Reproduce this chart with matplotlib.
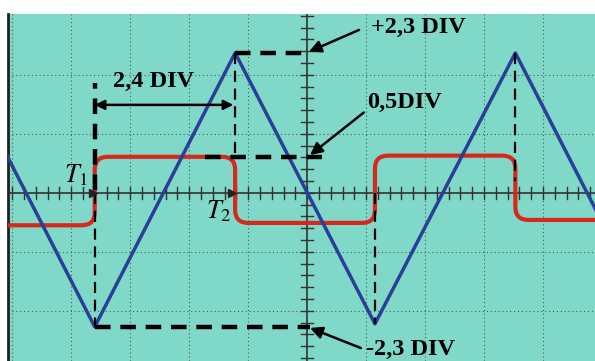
import numpy as np
import matplotlib
matplotlib.use("Agg")
import matplotlib.pyplot as plt
from matplotlib.path import Path
from matplotlib.patches import PathPatch

# triangle wave (blue), vertices in DIV
tri_t = [-5.97, -3.6, -1.22, 1.15, 3.53, 5.9]
tri_v = [2.35, -2.27, 2.37, -2.22, 2.37, -2.25]

# square wave (red): edge times and the level between edges
sq_edges = [-3.6, -1.22, 1.15, 3.53]
sq_levels = [-0.55, 0.61, -0.51, 0.63, -0.46]

# annotation labels: (text, x, y)
labels = [
    ("2,4 DIV", -2.61, 1.88, "center"),
    ("+2,3 DIV", 1.08, 2.80, "left"),
    ("0,5DIV", 1.02, 1.53, "left"),
    ("-2,3 DIV", 1.0, -2.66, "left"),
]

BG = "#80d8c8"
RED = "#d8281c"
BLUE = "#2a3f98"

plt.rcParams["mathtext.fontset"] = "stix"

fig = plt.figure(figsize=(5.95, 3.61), dpi=100)
ax = fig.add_axes([8 / 595, 0, 587 / 595, (361 - 14) / 361])
ax.set_xlim(-5.07, 4.88)
ax.set_ylim(-2.85, 3.03)
ax.set_facecolor(BG)
for s in ["top", "right", "bottom"]:
    ax.spines[s].set_visible(False)
ax.spines["left"].set_color("#222222")
ax.spines["left"].set_linewidth(2)
ax.set_xticks([])
ax.set_yticks([])

# dotted graticule
for gx in range(-5, 5):
    if gx != 0:
        ax.axvline(gx, color="#41605a", lw=0.8, ls=(0, (1, 2.5)), zorder=1)
for gy in range(-2, 3):
    if gy != 0:
        ax.axhline(gy, color="#41605a", lw=0.8, ls=(0, (1, 2.5)), zorder=1)

# centre axes with small ticks
ax.axhline(0, color="#333333", lw=1.2, zorder=2)
ax.axvline(0, color="#333333", lw=1.2, zorder=2)
tl = 0.1
for tx in np.arange(-5, 5.01, 0.2):
    ax.plot([tx, tx], [-tl, tl], color="#333333", lw=1.0, zorder=2)
for ty in np.arange(-3, 3.01, 0.2):
    ax.plot([-tl, tl], [ty, ty], color="#333333", lw=1.0, zorder=2)

# red square wave with rounded corners
r = 0.22
verts = [(-5.2, sq_levels[0])]
codes = [Path.MOVETO]
for i, e in enumerate(sq_edges):
    a, b = sq_levels[i], sq_levels[i + 1]
    s = 1 if b > a else -1
    verts += [(e - r, a), (e, a), (e, a + s * r), (e, b - s * r), (e, b), (e + r, b)]
    codes += [Path.LINETO, Path.CURVE3, Path.CURVE3, Path.LINETO, Path.CURVE3, Path.CURVE3]
verts.append((5.2, sq_levels[-1]))
codes.append(Path.LINETO)
ax.add_patch(PathPatch(Path(verts, codes), fill=False, ec=RED, lw=3.0,
                       joinstyle="round", zorder=4))

# blue triangle wave
ax.plot(tri_t, tri_v, color=BLUE, lw=2.5, solid_joinstyle="round", zorder=5)

# dashed construction lines
t1, t2, t3, t4 = sq_edges
top, bot = tri_v[2], tri_v[1]
hi = sq_levels[1]
thick = dict(color="black", lw=3.2, ls=(0, (3.5, 2.2)), zorder=6)
thin = dict(color="black", lw=1.6, ls=(0, (5, 3)), zorder=6)
ax.plot([t1, t1], [0.05, 1.86], **thick)
ax.plot([t1, t1], [0, bot], **thin)
ax.plot([t2, t2], [top, hi], **thin)
ax.plot([t2, 0.05], [top, top], **thick)
ax.plot([-1.73, 0.25], [hi, hi], **thick)
ax.plot([t1, 0.05], [bot, bot], **thick)
ax.plot([t3, t3], [0, tri_v[3]], **thin)
ax.plot([t4, t4], [tri_v[4], 0.2], **thin)

# 2,4 DIV double arrow
ax.annotate("", xy=(t2 - 0.03, 1.49), xytext=(t1, 1.49),
            arrowprops=dict(arrowstyle="<|-|>", color="black", lw=1.8,
                            mutation_scale=14, shrinkA=0, shrinkB=0), zorder=7)

# small markers on the time axis at T1 and T2
ax.plot([t1 - 0.03, t2 - 0.05], [0, 0], ls="none", marker=">", ms=6,
        color="#222222", zorder=7)

# value labels with arrows
font = dict(family="Liberation Serif", weight="bold", size=17.5, color="black")
for txt, x, y, ha in labels:
    ax.text(x, y, txt, ha=ha, va="center", zorder=8, **font)

arr = dict(arrowstyle="-|>", color="black", lw=1.8, mutation_scale=18,
           shrinkA=0, shrinkB=0)
ax.annotate("", xy=(0.03, 2.39), xytext=(0.88, 2.76), arrowprops=arr)
ax.annotate("", xy=(0.05, 0.64), xytext=(0.96, 1.36), arrowprops=arr)
ax.annotate("", xy=(0.05, -2.29), xytext=(0.91, -2.63), arrowprops=arr)

ax.text(-4.12, 0.3, r"$T_1$", fontsize=19, ha="left", va="center", zorder=8)
ax.text(-1.72, -0.32, r"$T_2$", fontsize=19, ha="left", va="center", zorder=8)

fig.savefig("out.png", dpi=100, facecolor="white")
